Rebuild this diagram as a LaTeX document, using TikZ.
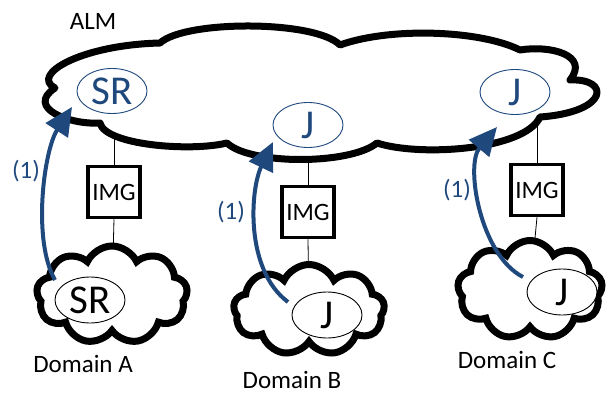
\documentclass[tikz,border=0pt]{standalone}
\usepackage{fontspec}
\setmainfont{Carlito}
\usetikzlibrary{shapes.geometric,shapes.symbols,arrows.meta}
\definecolor{myblue}{RGB}{31,73,125}
\begin{document}
\begin{tikzpicture}[x=1pt,y=-1pt,
  lbl/.style={font=\fontsize{25}{30}\selectfont, inner sep=0pt},
  numlbl/.style={font=\fontsize{25}{28}\selectfont, inner sep=0pt, text=myblue},
  imgbox/.style={draw, line width=3.5pt, fill=white, minimum width=52pt, minimum height=51pt, inner sep=0pt, font=\fontsize{25}{30}\selectfont},
  smallcloud/.style={cloud, draw, line width=7pt, fill=white, cloud puffs=9, cloud puff arc=130, inner sep=0pt},
  blueell/.style={ellipse, draw=myblue, line width=0.9pt, fill=white, text=myblue, minimum width=70pt, minimum height=45pt, inner sep=0pt, font=\fontsize{41}{44}\selectfont},
  blackell/.style={ellipse, draw, line width=0.9pt, fill=white, minimum width=70pt, minimum height=46pt, inner sep=0pt, font=\fontsize{41}{44}\selectfont},
  conn/.style={line width=0.8pt},
  flow/.style={draw=myblue, line width=4pt, -{Triangle[length=28pt,width=26pt]}},
]
\useasboundingbox (0,0) rectangle (610,396);

% connector anchor points inside the ALM cloud
\coordinate (almA) at (114,120);
\coordinate (almB) at (308,140);
\coordinate (almC) at (537,105);

% IMG boxes
\node[imgbox] (imgA) at (114,192) {IMG};
\node[imgbox] (imgB) at (308,212) {IMG};
\node[imgbox] (imgC) at (537,190) {IMG};

% small cloud centres
\path (112,295) coordinate (cA) (309,310) coordinate (cB) (530,290) coordinate (cC);

% thin connectors behind clouds
\draw[conn] (almA) -- (imgA.north);
\draw[conn] (almB) -- (imgB.north);
\draw[conn] (almC) -- (imgC.north);
\draw[conn] (imgA.south) -- (cA);
\draw[conn] (imgB.south) -- (cB);
\draw[conn] (imgC.south) -- (cC);

% boxes again on top of the lines
\node[imgbox] at (imgA) {IMG};
\node[imgbox] at (imgB) {IMG};
\node[imgbox] at (imgC) {IMG};

% big ALM cloud
\draw[line width=7pt, fill=white, line join=round]
  (160,43) .. controls (185,20) and (315,20) .. (340,45)
  .. controls (390,27) and (480,30) .. (520,50)
  .. controls (550,45) and (590,55) .. (570,80)
  .. controls (610,78) and (610,112) .. (540,117)
  .. controls (525,150) and (420,157) .. (377,143)
  .. controls (350,165) and (250,165) .. (227,143)
  .. controls (190,152) and (105,145) .. (100,123)
  .. controls (70,125) and (25,108) .. (55,88)
  .. controls (30,75) and (80,45) .. (160,43) -- cycle;

% small domain clouds
\node[smallcloud, aspect=1.5, minimum width=151pt, minimum height=98pt] (cloudA) at (cA) {};
\node[smallcloud, aspect=1.6, minimum width=151pt, minimum height=91pt] (cloudB) at (cB) {};
\node[smallcloud, aspect=1.45, minimum width=145pt, minimum height=99pt] (cloudC) at (cC) {};

% ellipses
\node[blueell] (srTop) at (112,91) {SR};
\node[blueell] (jMid) at (308,125) {J};
\node[blueell] (jRight) at (515,92) {J};
\node[blackell] (srA) at (90,300) {SR};
\node[blackell] (jB) at (327,315) {J};
\node[blackell] (jC) at (562,292) {J};

% arrows
\coordinate (tipA) at (72,107);
\coordinate (tipB) at (273,142);
\coordinate (tipC) at (497,127);
\coordinate (startA) at (55,280);
\coordinate (startB) at (288,302);
\coordinate (startC) at (523,277);
\draw[flow] (startA) .. controls (32,240) and (44,150) .. (tipA);
\draw[flow] (startB) .. controls (245,270) and (250,190) .. (tipB);
\draw[flow] (startC) .. controls (480,255) and (465,165) .. (tipC);

% labels
\node[lbl] (alm) at (93,21) {ALM};
\node[lbl] (domA) at (83,364) {Domain A};
\node[lbl] (domB) at (292,380) {Domain B};
\node[lbl] (domC) at (507,360) {Domain C};
\node[numlbl] (n1) at (26,171) {(1)};
\node[numlbl] (n2) at (231,212) {(1)};
\node[numlbl] (n3) at (457,190) {(1)};
\end{tikzpicture}
\end{document}
